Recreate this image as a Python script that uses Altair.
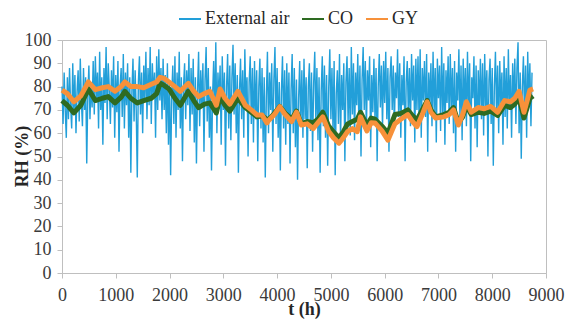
import altair as alt
import pandas as pd

# ---------------- data ----------------
# External air RH, one value every 20 h from t = 0 h
ext_air = (
    [80, 64, 86, 70, 58, 84, 66, 88, 72, 62, 90, 68, 85, 60, 78, 87, 65, 92, 74, 63, 88, 70, 84, 47, 76, 89, 66, 82, 71, 91]
    + [68, 93, 75, 86, 62, 95, 70, 84, 55, 88, 73, 97, 66, 90, 79, 64, 87, 71, 93, 58, 85, 69, 91, 52, 80, 88, 67, 94, 62, 86]
    + [72, 90, 58, 84, 43, 78, 92, 65, 87, 70, 41, 82, 93, 68, 86, 60, 89, 74, 95, 66, 88, 72, 97, 64, 90, 76, 86, 58, 93, 70]
    + [96, 74, 88, 66, 92, 70, 85, 60, 90, 55, 82, 42, 76, 89, 64, 93, 58, 86, 70, 95, 62, 84, 48, 80, 90, 66, 87, 72, 94, 61]
    + [88, 68, 92, 56, 84, 47, 78, 95, 63, 87, 71, 90, 52, 83, 97, 65, 88, 58, 80, 44, 76, 91, 68, 99, 60, 86, 73, 89, 55, 93]
    + [70, 86, 46, 80, 94, 62, 89, 57, 84, 98, 68, 90, 60, 85, 43, 78, 92, 66, 87, 58, 96, 71, 84, 50, 82, 93, 64, 88, 56, 91]
    + [66, 87, 48, 80, 92, 62, 88, 56, 84, 41, 76, 95, 60, 86, 70, 90, 52, 83, 97, 64, 88, 58, 82, 44, 78, 93, 62, 87, 55, 90]
    + [64, 86, 47, 79, 94, 60, 88, 54, 83, 40, 75, 91, 63, 87, 58, 92, 66, 84, 45, 80, 90, 61, 86, 52, 82, 95, 65, 88, 57, 84]
    + [43, 78, 93, 63, 89, 58, 85, 46, 80, 96, 66, 88, 60, 91, 42, 77, 87, 64, 94, 57, 85, 70, 90, 48, 82, 93, 65, 88, 59, 97]
    + [68, 90, 57, 86, 72, 94, 63, 89, 50, 83, 97, 70, 91, 61, 87, 74, 93, 54, 85, 69, 92, 66, 88, 48, 80, 94, 71, 89, 62, 91]
    + [73, 95, 66, 88, 52, 84, 93, 70, 89, 62, 86, 75, 96, 67, 90, 58, 85, 72, 93, 48, 82, 91, 68, 88, 63, 94, 74, 89, 56, 92]
    + [70, 93, 65, 96, 58, 88, 74, 91, 67, 94, 52, 86, 72, 90, 63, 95, 69, 88, 56, 92, 75, 89, 61, 97, 68, 90, 55, 87, 73, 93]
    + [64, 94, 70, 88, 60, 91, 52, 86, 74, 96, 66, 89, 57, 92, 71, 88, 63, 95, 69, 90, 48, 84, 75, 93, 62, 89, 54, 87, 70, 92]
    + [66, 90, 59, 94, 71, 87, 50, 83, 92, 64, 88, 46, 80, 95, 68, 89, 60, 91, 73, 86, 55, 93, 67, 88, 62, 96, 70, 85, 58, 90]
    + [72, 92, 64, 88, 99, 60, 86, 49, 80, 93, 66, 89, 58, 95, 72, 90, 63, 86]
)
ext_t = [i * 20 for i in range(len(ext_air))]

in_t = [0, 100, 220, 350, 490, 620, 750, 860, 985, 1100, 1170, 1280, 1400, 1520,
        1660, 1760, 1825, 1900, 1990, 2100, 2200, 2350, 2450, 2540, 2650, 2750,
        2870, 2940, 3030, 3120, 3270, 3340, 3410, 3520, 3630, 3720, 3810, 3850,
        3950, 4050, 4150, 4270, 4360, 4450, 4560, 4670, 4760, 4850, 4960, 5050,
        5150, 5230, 5310, 5400, 5490, 5550, 5670, 5750, 5820, 5950, 6060, 6190,
        6300, 6430, 6520, 6600, 6700, 6790, 6860, 6950, 7100, 7200, 7280, 7370,
        7450, 7520, 7610, 7740, 7850, 7970, 8100, 8230, 8340, 8420, 8500, 8590,
        8650, 8700, 8760]

gy = [78.5, 77, 73.5, 76, 82, 78.7, 79.5, 80, 78, 80, 82, 80, 80, 79.5,
      81, 82, 84, 83.5, 82, 80, 78, 81.4, 78, 75.7, 77, 78,
      72, 79, 75, 72.5, 78, 75, 72, 70, 67.8, 67.8, 64.4, 65.7,
      68, 71.4, 68, 65, 69, 63.5, 64, 62, 64.5, 67, 60.7, 58,
      55.7, 58, 60.7, 62, 60.7, 67, 61, 64.5, 64.4, 61, 57, 64,
      66, 68, 65, 62.8, 68, 73.5, 69, 66.5, 67, 68, 70, 63.5,
      68, 73.5, 69, 71, 70.5, 71.5, 69, 74, 73.5, 75, 78, 69,
      74, 78.5, 79]

co = [74, 72, 68.7, 72, 79, 74, 75, 75.7, 73, 75.5, 78, 75, 73, 74,
      75, 77, 81.5, 80.5, 79, 75, 72, 78, 74, 71, 72.5, 73,
      68.7, 75.7, 72, 69.5, 75, 73, 71, 69, 67, 67.5, 66, 66,
      68.5, 71.5, 68.5, 66, 69.5, 64, 65, 64.5, 66, 69, 63, 60.5,
      58, 60.5, 64, 65, 66, 69, 63.5, 66.5, 66, 63, 60, 68,
      68.5, 70, 67.5, 65.7, 70, 74, 70, 67, 68, 69, 71, 64.5,
      67, 72, 68, 69, 68.5, 69.5, 67.6, 72, 71, 72.5, 75, 66.5,
      71, 75, 76]

series_names = ["External air", "CO", "GY"]
series_colors = ["#229FD9", "#2E6B22", "#F7913A"]
x_ticks = [0, 1000, 2000, 3000, 4000, 5000, 6000, 7000, 8000, 9000]
y_ticks = [0, 10, 20, 30, 40, 50, 60, 70, 80, 90, 100]

df_ext = pd.DataFrame({"t": ext_t, "RH": ext_air, "series": "External air"})
df_co = pd.DataFrame({"t": in_t, "RH": co, "series": "CO"})
df_gy = pd.DataFrame({"t": in_t, "RH": gy, "series": "GY"})

FONT = "Liberation Serif"
W, H = 484, 233

color = alt.Color(
    "series:N",
    scale=alt.Scale(domain=series_names, range=series_colors),
    legend=alt.Legend(
        title=None,
        orient="none",
        direction="horizontal",
        legendX=116,
        legendY=-33,
        symbolType="stroke",
        symbolSize=484,
        symbolStrokeWidth=2,
        labelFont=FONT,
        labelFontSize=18,
        labelColor="#262626",
        labelOffset=3,
        columnPadding=8,
    ),
)

x = alt.X(
    "t:Q",
    scale=alt.Scale(domain=[0, 9000], nice=False),
    axis=alt.Axis(values=x_ticks, format="d", title="t (h)", labelFlush=False,
                  labelOverlap=False, labelPadding=8, titleY=45,
                  titleBaseline="bottom"),
)
y = alt.Y(
    "RH:Q",
    scale=alt.Scale(domain=[0, 100], nice=False),
    axis=alt.Axis(values=y_ticks, title="RH (%)", labelPadding=6, labelFlush=False,
                  titleX=-31, titleY=116, titleBaseline="bottom"),
)

ext_layer = alt.Chart(df_ext).mark_line(strokeWidth=1.4).encode(x=x, y=y, color=color)
co_layer = alt.Chart(df_co).mark_line(strokeWidth=5, strokeJoin="round").encode(x=x, y=y, color=color)
gy_layer = alt.Chart(df_gy).mark_line(strokeWidth=5, strokeJoin="round").encode(x=x, y=y, color=color)

chart = (
    alt.layer(ext_layer, co_layer, gy_layer)
    .properties(
        width=W,
        height=H,
        autosize=alt.AutoSizeParams(type="none"),
        padding={"left": 54, "top": 32, "right": 26, "bottom": 46},
        background="white",
    )
    .configure_view(stroke="#BFBFBF", strokeWidth=1)
    .configure_axis(
        grid=False,
        labelFont=FONT,
        labelFontSize=18,
        labelColor="#3A3A3A",
        titleFont=FONT,
        titleFontSize=18,
        titleFontWeight="bold",
        titleColor="#262626",
        domainColor="#BFBFBF",
        tickColor="#BFBFBF",
        tickSize=5,
    )
)

chart.save("out.html", embed_options={"renderer": "svg", "actions": False})
